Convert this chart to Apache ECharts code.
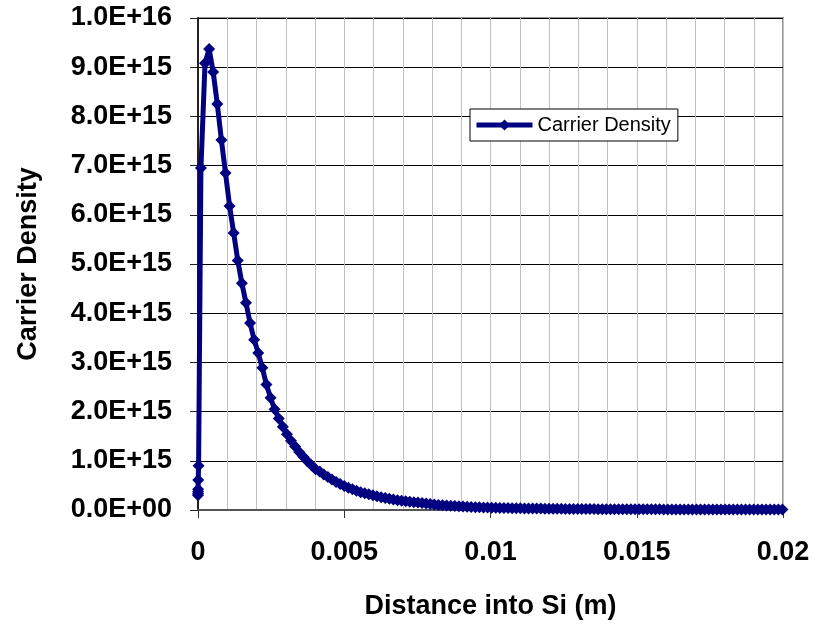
<!DOCTYPE html>
<html>
<head>
<meta charset="utf-8">
<title>Carrier Density</title>
<script src="https://cdn.jsdelivr.net/npm/echarts@6/dist/echarts.min.js"></script>
<style>
  html, body { margin: 0; padding: 0; background: #fff; }
  #chart { width: 817px; height: 627px; }
</style>
</head>
<body>
<div id="chart"></div>
<script>
// near-surface points (m) and carrier density in units of 1E15
var surfaceX = [0, 0.000001, 0.000002, 0.000004, 0.000008, 0.00002];
var surfaceY = [0.30, 0.33, 0.37, 0.42, 0.61, 0.90];

// regular mesh into the bulk
var meshStart = 0.0001;
var meshStep = 0.00014;
var meshY = [
    6.95, 9.08, 9.37, 8.90, 8.25, 7.52, 6.85, 6.18, 5.63, 5.07,
    4.61, 4.21, 3.80, 3.46, 3.19, 2.89, 2.55, 2.28, 2.05, 1.86,
    1.69, 1.54, 1.41, 1.29, 1.18, 1.08, 0.99, 0.91, 0.83, 0.78,
    0.72, 0.67, 0.62, 0.57, 0.53, 0.49, 0.45, 0.42, 0.39, 0.36,
    0.34, 0.32, 0.30, 0.28, 0.26, 0.245, 0.23, 0.215, 0.20, 0.19,
    0.18, 0.17, 0.16, 0.15, 0.14, 0.13, 0.12, 0.11, 0.10, 0.095,
    0.09, 0.085, 0.08, 0.075, 0.07, 0.066, 0.062, 0.058, 0.055, 0.052,
    0.05, 0.047, 0.045, 0.043, 0.041, 0.039, 0.037, 0.035, 0.034, 0.032,
    0.031, 0.030, 0.029, 0.028, 0.027, 0.026, 0.025, 0.024, 0.023, 0.022,
    0.021, 0.021, 0.020, 0.020, 0.019, 0.018, 0.018, 0.017, 0.017, 0.016,
    0.016, 0.015, 0.015, 0.015, 0.015, 0.014, 0.014, 0.014, 0.014, 0.013,
    0.013, 0.013, 0.013, 0.012, 0.012, 0.012, 0.012, 0.012, 0.011, 0.011,
    0.011, 0.011, 0.011, 0.011, 0.010, 0.010, 0.010, 0.010, 0.010, 0.010,
    0.010, 0.009, 0.009, 0.009, 0.009, 0.009, 0.009, 0.009, 0.008, 0.008,
    0.008, 0.008, 0.008
];

var xTicks = ['0', '0.005', '0.01', '0.015', '0.02'];
var seriesName = 'Carrier Density';

var points = [];
for (var i = 0; i < surfaceX.length; i++) {
    points.push([surfaceX[i], surfaceY[i]]);
}
for (var k = 0; k < meshY.length; k++) {
    points.push([+(meshStart + k * meshStep).toFixed(6), meshY[k]]);
}

function sciLabel(v) {
    var n = Math.round(v * 10) / 10;
    if (n === 0) return '0.0E+00';
    var s = (n * 1e15).toExponential(1).toUpperCase();
    return s.replace(/E([+-])(\d)$/, 'E$10$2');
}

var font = '"Liberation Sans", Arial, sans-serif';
var myChart = echarts.init(document.getElementById('chart'));
option = {
    backgroundColor: '#fff',
    animation: false,
    grid: {
        left: 198,
        right: 34,
        top: 18,
        bottom: 117,
        show: true,
        borderColor: '#999',
        borderWidth: 2
    },
    legend: {
        left: 470,
        top: 109,
        padding: [6, 7, 6, 4],
        backgroundColor: '#fff',
        borderColor: '#000',
        borderWidth: 1,
        borderRadius: 0,
        itemWidth: 56,
        itemHeight: 14,
        itemGap: 0,
        lineStyle: { width: 5, color: '#000080' },
        textStyle: { fontFamily: font, fontSize: 20, color: '#000' },
        data: [seriesName]
    },
    xAxis: {
        type: 'value',
        min: 0,
        max: 0.02,
        interval: 0.005,
        name: 'Distance into Si (m)',
        nameLocation: 'middle',
        nameGap: 83,
        nameTextStyle: { fontFamily: font, fontSize: 27, fontWeight: 'bold', color: '#000' },
        axisLine: { show: true, lineStyle: { color: '#555', width: 2 } },
        axisTick: { show: true, length: 8, lineStyle: { color: '#333', width: 1 } },
        axisLabel: {
            margin: 29,
            fontFamily: font, fontSize: 27, fontWeight: 'bold', color: '#000',
            formatter: function (v) {
                return xTicks[Math.round(v / 0.005)];
            }
        },
        splitLine: { show: true, lineStyle: { color: '#c0c0c0', width: 1 } },
        minorTick: { show: false, splitNumber: 5 },
        minorSplitLine: { show: true, lineStyle: { color: '#c0c0c0', width: 1 } }
    },
    yAxis: {
        type: 'value',
        min: 0,
        max: 10,
        interval: 1,
        name: 'Carrier Density',
        nameLocation: 'middle',
        nameGap: 156,
        nameRotate: 90,
        nameTextStyle: { fontFamily: font, fontSize: 27, fontWeight: 'bold', color: '#000' },
        axisLine: { show: true, lineStyle: { color: '#222', width: 2 } },
        axisTick: { show: true, length: 8, lineStyle: { color: '#222', width: 1 } },
        axisLabel: {
            margin: 26,
            fontFamily: font, fontSize: 27, fontWeight: 'bold', color: '#000',
            formatter: sciLabel
        },
        splitLine: { show: true, lineStyle: { color: '#000', width: 1 } }
    },
    series: [
        {
            name: seriesName,
            type: 'line',
            clip: false,
            data: points,
            symbol: 'diamond',
            symbolSize: 12,
            showAllSymbol: true,
            lineStyle: { color: '#000080', width: 5 },
            itemStyle: { color: '#000080' }
        }
    ]
};
myChart.setOption(option);
</script>
</body>
</html>
